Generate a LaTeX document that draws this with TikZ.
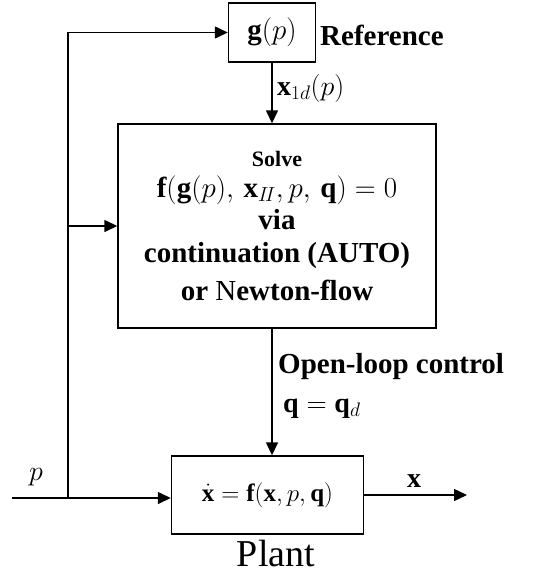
\documentclass[tikz,border=0pt]{standalone}
\usepackage{fix-cm}
\usepackage{fontspec}
\setmainfont{Liberation Serif}
\usetikzlibrary{arrows.meta,positioning}

\tikzset{
  block/.style={draw, line width=1.4pt, inner sep=0pt},
  sig/.style={line width=1.4pt, -{Triangle[length=13pt,width=12pt]}},
  lbl/.style={font=\fontsize{29}{33}\selectfont\bfseries, inner sep=0pt}
}

\begin{document}
\begin{tikzpicture}[x=1pt,y=-1pt]
  \useasboundingbox (0,0) rectangle (534,576);

  % blocks
  \node [block, minimum width=87pt, minimum height=59pt, font=\fontsize{29}{33}\selectfont] (g) at (272,32.5) {$\mathbf{g}(p)$};
  \node [block, minimum width=318pt, minimum height=204pt, align=center,
         font=\fontsize{29}{33}\selectfont\bfseries] (solve) at (277,226)
    {{\fontsize{22}{24}\selectfont Solve}\\[-2pt]
     $\mathbf{f}(\mathbf{g}(p),\, \mathbf{x}_{I\!I}, p,\, \mathbf{q}) = 0$\\[-1pt]
     via\\
     continuation (AUTO)\\[5pt]
     or {\mdseries N}ewton-flow};
  \node [block, minimum width=192pt, minimum height=78pt, font=\fontsize{25}{28}\selectfont] (plant) at (267.5,495)
    {$\dot{\mathbf{x}} = \mathbf{f}(\mathbf{x}, p, \mathbf{q})$};

  % labels
  \node [lbl, anchor=west] (ref) at (320,35) {Reference};
  \node [lbl, anchor=west, font=\fontsize{28}{32}\selectfont] (x1d) at (277,88) {$\mathbf{x}_{1d}(p)$};
  \node [lbl, anchor=west] (olc) at (278,367) {Open-loop control};
  \node [lbl, anchor=west, font=\fontsize{28}{32}\selectfont] (qd) at (283,409) {$\mathbf{q} = \mathbf{q}_d$};
  \node [lbl, font=\fontsize{28}{32}\selectfont] (plab) at (36,477) {$p$};
  \node [lbl, font=\fontsize{28}{32}\selectfont] (xlab) at (414,481) {$\mathbf{x}$};
  \node [font=\fontsize{38}{42}\selectfont, inner sep=0pt] (plname) at (276,553) {Plant};

  % signal lines
  \coordinate (pin) at (12,498);
  \coordinate (split) at (68,498);
  \coordinate (xout) at (467,494);
  \draw [sig] (pin) -- (pin -| plant.west);
  \draw [sig] (split) -- (split |- g.west) -- (g.west);
  \draw [sig] (split |- solve.west) -- (solve.west);
  \draw [sig] (g.south) -- (g.south |- solve.north);
  \draw [sig] (g.south |- solve.south) -- (g.south |- plant.north);
  \draw [sig] (plant.east) -- (plant.east -| xout);
\end{tikzpicture}
\end{document}
